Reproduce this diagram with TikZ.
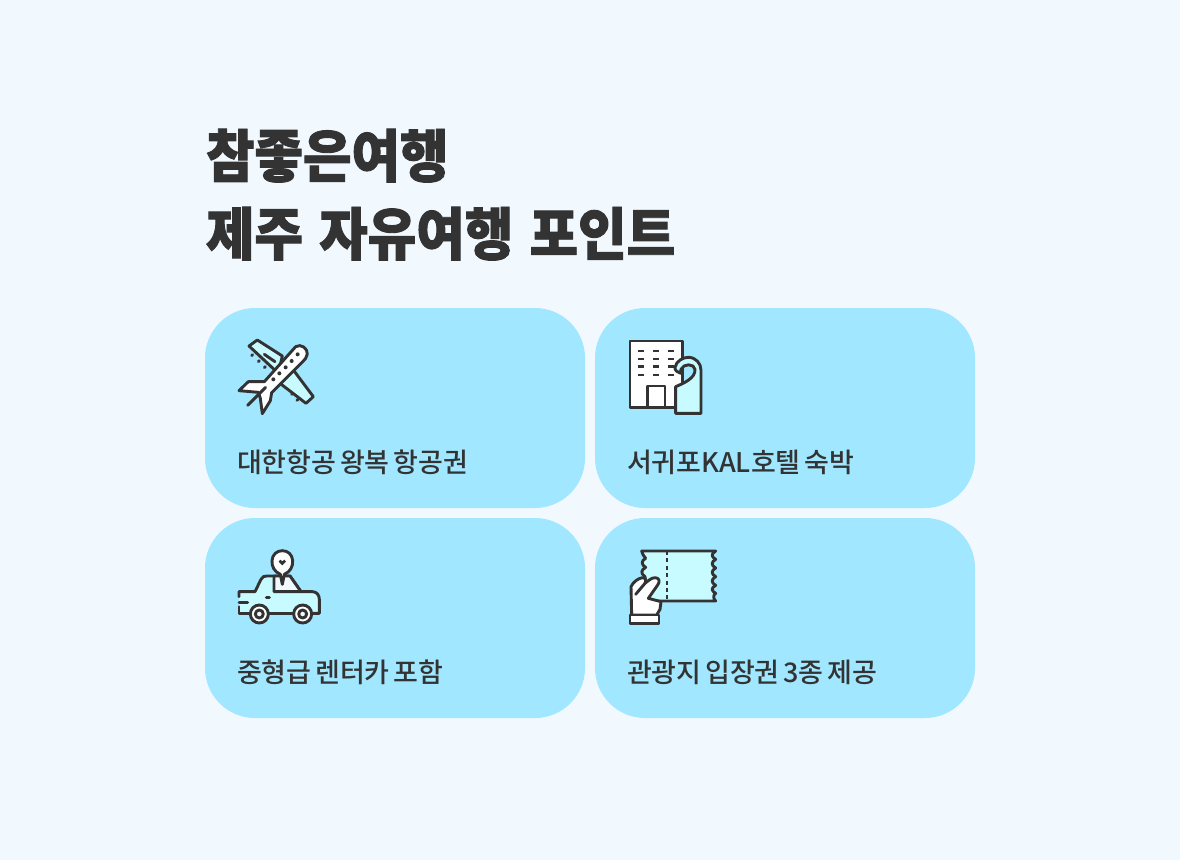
\documentclass[tikz,border=0pt]{standalone}
\usepackage{fontspec}
\newfontfamily\titlefont[FakeBold=1.6,FakeStretch=0.925,WordSpace=1.35]{Noto Sans CJK KR Black}
\newfontfamily\labelfont[WordSpace=0.6]{Noto Sans CJK KR Medium}
\definecolor{bgc}{HTML}{F1F9FF}
\definecolor{cardc}{HTML}{A0E7FF}
\definecolor{ink}{HTML}{333333}
\definecolor{lite}{HTML}{C8FBFF}
\tikzset{
 card/.style={fill=cardc,rounded corners=50pt,minimum width=380pt,minimum height=200pt,inner sep=0pt,outer sep=0pt,anchor=north west},
 lbl/.style={anchor=base west,inner sep=0pt,outer sep=0pt,text=ink,font=\labelfont\fontsize{27}{30}\selectfont},
 ttl/.style={anchor=base west,inner sep=0pt,outer sep=0pt,text=ink,font=\titlefont\fontsize{57}{60}\selectfont},
 ic/.style={draw=ink,line width=2.9pt,line join=round,line cap=round},
 icon/.style={x=0.3333pt,y=-0.3333pt},
}
\begin{document}
\begin{tikzpicture}[x=1pt,y=-1pt]
\useasboundingbox (0,0) rectangle (1180,860);
\fill[bgc] (0,0) rectangle (1180,860);
\node[ttl] (t1) at (206,177) {참좋은여행};
\node[ttl] (t2) at (206,255) {제주 자유여행 포인트};
\node[card] (c1) at (205,308) {};
\node[card] (c2) at (595,308) {};
\node[card] (c3) at (205,518) {};
\node[card] (c4) at (595,518) {};
\node[lbl] (l1) at (237,472) {대한항공 왕복 항공권};
\node[lbl] (l2) at (627,472) {서귀포KAL호텔 숙박};
\node[lbl] (l3) at (237,682) {중형급 렌터카 포함};
\node[lbl] (l4) at (627,682) {관광지 입장권 3종 제공};
% plane
\begin{scope}[shift={(225,330)},icon]
\foreach \a/\b in {83/74,103/92,121/110}{\draw[ic] (\a,\b)--(\a-3,\b+3);}
\foreach \a/\b in {186/170,203/190,219/208}{\draw[ic] (\a,\b)--(\a-3,\b+3);}
\draw[ic,fill=lite] (72,48)--(97,30)--(172,78)--(160,130)--cycle;
\draw[ic,fill=lite] (205,120)--(265,200)--(243,220)--(165,160)--cycle;
\draw[ic,fill=white] (212,50) .. controls (228,40) and (248,55) .. (247,72) .. controls (246,82) and (240,88) .. (232,96)
 --(140,188)--(136,212)--(112,251)--(106,205)--(100,187)--(42,182)--(70,155)--(118,155)--(212,50);
\foreach \a/\b in {218/73,200/93,182/112,163/130,145/148}{\fill[ink] (\a,\b) circle (6);}
\draw[ic] (118,73)--(150,95);
\draw[ic] (68,226)--(122,172);
\end{scope}
% building
\begin{scope}[shift={(615,330)},icon]
\draw[ic,fill=white] (45,33) rectangle (202,232);
\foreach \r in {63,87,110,135}{\foreach \c in {70,114,158}{\draw[ink,line width=2.9pt] (\c,\r)--(\c+18,\r);}}
\draw[ic] (97,232)--(97,168)--(150,168)--(150,232);
\draw[ic,fill=lite] (182,170) .. controls (205,160) and (242,145) .. (240,118)
 .. controls (238,100) and (205,100) .. (198,118) .. controls (195,125) and (197,128) .. (197,130)
 .. controls (188,128) and (178,120) .. (180,112) .. controls (184,92) and (205,82) .. (220,82)
 .. controls (242,82) and (258,100) .. (258,120) -- (258,250) -- (182,250) -- cycle;
\end{scope}
% car
\begin{scope}[shift={(225,540)},icon]
\path[fill=lite] (42,155)--(90,155)--(108,118) .. controls (112,110) and (118,108) .. (125,108)--(195,108)--(228,155)--(262,155)
 .. controls (275,155) and (283,165) .. (283,178)--(283,220)--(42,220)--cycle;
\draw[ic] (42,170)--(42,155)--(90,155)--(108,118) .. controls (112,110) and (118,108) .. (125,108)--(195,108)--(228,155)--(262,155)
 .. controls (275,155) and (283,165) .. (283,178)--(283,220)--(262,220);
\draw[ic,fill=bgc] (147,108)--(147,155)--(228,155)--(195,108)--cycle;
\draw[ic] (42,200)--(42,220)--(72,220);
\draw[ic] (42,187)--(68,187);
\draw[ic] (130,220)--(205,220);
\draw[ic] (124,173)--(133,173);
\draw[ic,fill=white] (103,222) circle (27);
\draw[ic,fill=bgc] (103,222) circle (12);
\draw[ic,fill=white] (233,222) circle (27);
\draw[ic,fill=bgc] (233,222) circle (12);
\draw[ic,fill=white] (172,133) -- (166,103) .. controls (148,95) and (140,80) .. (141,62)
 .. controls (142,44) and (155,32) .. (172,32) .. controls (189,32) and (202,44) .. (203,62)
 .. controls (204,80) and (196,95) .. (178,103) -- cycle;
\fill[ink] (172,76) -- (161,65) -- (166,59) -- (172,64) -- (178,59) -- (183,65) -- cycle;
\end{scope}
% ticket
\begin{scope}[shift={(615,540)},icon]
\draw[ic,fill=lite] (80,33)--(302,33)
 .. controls (288,42) and (288,50) .. (302,58) .. controls (288,66) and (288,76) .. (302,84)
 .. controls (288,92) and (288,102) .. (302,110) .. controls (288,118) and (288,128) .. (302,136)
 .. controls (288,144) and (288,152) .. (302,160) .. controls (294,165) and (294,175) .. (302,183)
 --(135,183)--(100,183)--(90,110)
 .. controls (76,100) and (78,90) .. (92,82) .. controls (78,74) and (78,62) .. (92,55) .. controls (85,48) and (82,40) .. (80,33);
\draw[ink,line width=2.9pt,dash pattern=on 4pt off 3.4pt] (156,33)--(156,183);
\draw[ic,fill=white] (50,225)--(48,140) .. controls (55,125) and (70,115) .. (82,113) .. controls (92,113) and (94,122) .. (90,130)
 .. controls (100,122) and (110,113) .. (120,113) .. controls (133,113) and (136,125) .. (128,135)
 --(100,175)--(138,185)--(135,208)--(125,225)--cycle;
\draw[ic] (90,130)--(62,163);
\draw[ic,fill=white] (45,225) rectangle (132,251);
\end{scope}
\end{tikzpicture}
\end{document}
